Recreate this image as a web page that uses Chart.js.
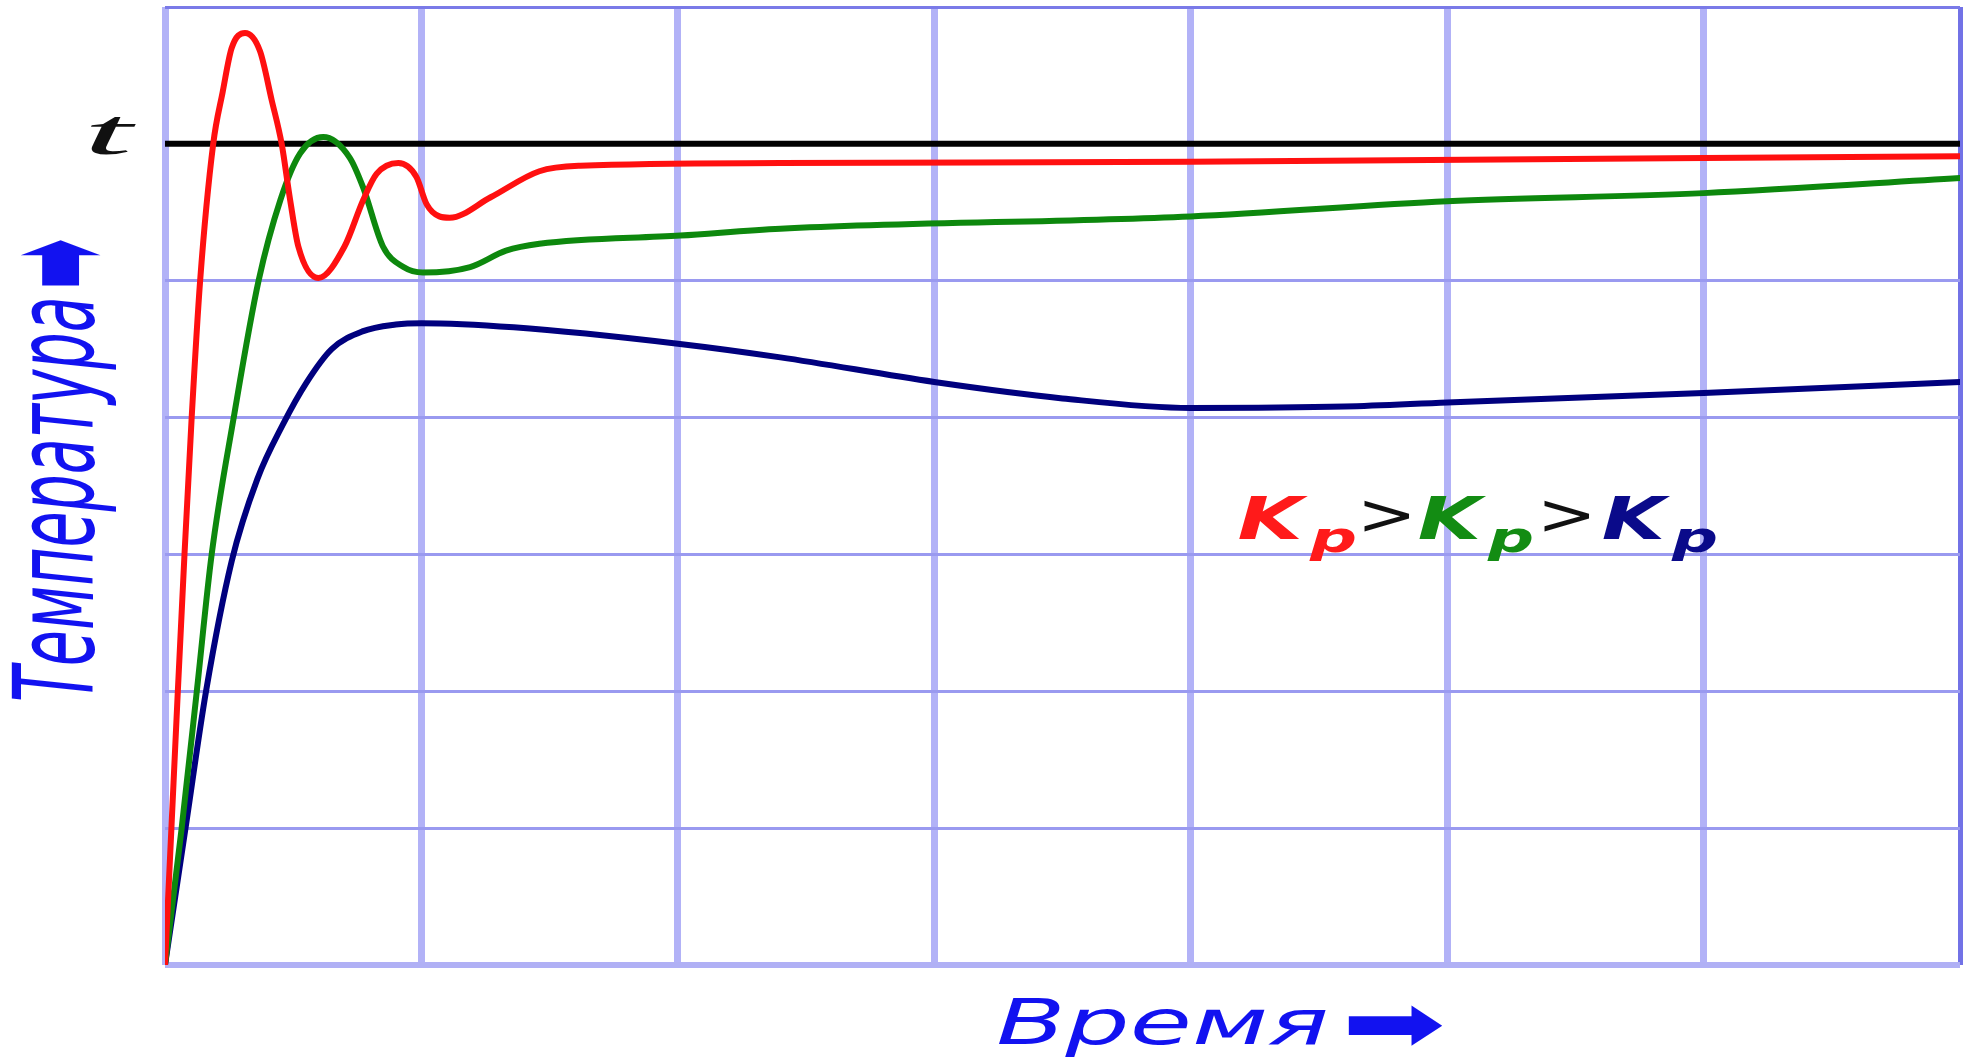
<!DOCTYPE html>
<html>
<head>
<meta charset="utf-8">
<script src="https://cdn.jsdelivr.net/npm/chart.js@4/dist/chart.umd.min.js"></script>
<style>
  body { margin: 0; background: #fff; }
  #wrap { width: 1974px; height: 1064px; position: relative; }
</style>
</head>
<body>
<div id="wrap"><canvas id="pidGraph"></canvas></div>
<script>
// setpoint level (the "t" line)
const tLevel = 6;
const tTime = [0, 7];

// high Kp - red
const redTime = [0, 0.025, 0.05, 0.076, 0.104, 0.137, 0.188, 0.225, 0.26, 0.312, 0.37, 0.416, 0.455, 0.488, 0.52, 0.598, 0.70, 0.773, 0.825, 0.91, 0.98, 1.02, 1.07, 1.11, 1.27, 1.46, 1.62, 2.4, 4, 7];
const redTemp = [0, 1, 2, 3, 4, 5, 6, 6.38, 6.7, 6.81, 6.68, 6.32, 6, 5.59, 5.25, 5.02, 5.25, 5.59, 5.78, 5.86, 5.76, 5.56, 5.47, 5.46, 5.61, 5.8, 5.84, 5.86, 5.87, 5.91];

// mid Kp - green
const greenTime = [0, 0.065, 0.124, 0.182, 0.268, 0.365, 0.45, 0.527, 0.617, 0.72, 0.773, 0.85, 0.93, 1.006, 1.19, 1.33, 1.46, 2.01, 2.4, 4, 5, 6, 7];
const greenTemp = [0, 1, 2, 3, 4, 5, 5.59, 5.93, 6.05, 5.9, 5.68, 5.25, 5.1, 5.06, 5.1, 5.22, 5.27, 5.33, 5.38, 5.47, 5.58, 5.64, 5.75];

// low Kp - blue
const blueTime = [0, 0.08, 0.16, 0.26, 0.36, 0.46, 0.55, 0.65, 0.77, 0.9, 1.0, 1.36, 2.0, 2.4, 3.0, 3.5, 4.0, 4.6, 5.0, 6.0, 7.0];
const blueTemp = [0, 1, 2, 2.95, 3.55, 3.95, 4.25, 4.5, 4.63, 4.68, 4.69, 4.66, 4.54, 4.44, 4.26, 4.14, 4.07, 4.08, 4.11, 4.18, 4.26];

const pts = (xs, ys) => xs.map((x, i) => ({ x: x, y: ys[i] }));

// stretch text into a box (the picture is stretched sideways)
function fitText(ctx, txt, font, color, w, h) {
  ctx.font = font;
  ctx.fillStyle = color;
  ctx.textAlign = 'left';
  ctx.textBaseline = 'alphabetic';
  const m = ctx.measureText(txt);
  const mw = m.actualBoundingBoxLeft + m.actualBoundingBoxRight;
  const mh = m.actualBoundingBoxAscent + m.actualBoundingBoxDescent;
  ctx.scale(w / mw, h / mh);
  ctx.fillText(txt, m.actualBoundingBoxLeft, m.actualBoundingBoxAscent);
}
function boxText(ctx, txt, font, color, x0, y0, x1, y1) {
  ctx.save();
  ctx.translate(x0, y0);
  fitText(ctx, txt, font, color, x1 - x0, y1 - y0);
  ctx.restore();
}

const labelsPlugin = {
  id: 'labels',
  afterDraw(chart) {
    const ctx = chart.ctx;
    const blue = '#1212f0';
    const sans = 'italic 60px "DejaVu Sans"';

    // t
    boxText(ctx, 't', 'italic 60px "Liberation Serif"', '#111', 89, 117, 136, 155);

    // y title, reading upward
    ctx.save();
    ctx.translate(10, 700);
    ctx.rotate(-Math.PI / 2);
    fitText(ctx, 'Температура', sans, blue, 400, 107);
    ctx.restore();
    ctx.save();
    ctx.translate(20, 286);
    ctx.rotate(-Math.PI / 2);
    fitText(ctx, '➡', '60px "DejaVu Sans"', blue, 46, 83);
    ctx.restore();

    // x title
    boxText(ctx, 'Время', sans, blue, 998, 998, 1327, 1057);
    boxText(ctx, '➡', '60px "DejaVu Sans"', blue, 1348, 1005, 1443, 1047);

    // Kp > Kp > Kp
    const kp = 'italic bold 60px "DejaVu Sans"';
    boxText(ctx, 'K', kp, '#ff1a1a', 1239, 495, 1309, 539);
    boxText(ctx, 'p', kp, '#ff1a1a', 1309, 527, 1355, 561);
    boxText(ctx, '>', '60px "DejaVu Sans"', '#111', 1364, 500, 1409, 532);
    boxText(ctx, 'K', kp, '#138c13', 1419, 495, 1487, 539);
    boxText(ctx, 'p', kp, '#138c13', 1487, 527, 1532, 561);
    boxText(ctx, '>', '60px "DejaVu Sans"', '#111', 1544, 500, 1589, 532);
    boxText(ctx, 'K', kp, '#0a0a8a', 1603, 495, 1671, 539);
    boxText(ctx, 'p', kp, '#0a0a8a', 1671, 527, 1716, 561);
  }
};

const ctxPid = document.getElementById('pidGraph');

new Chart(ctxPid, {
  type: 'scatter',
  data: {
    datasets: [
      { data: pts(redTime, redTemp), borderColor: '#ff1010', order: 0 },
      { data: pts(greenTime, greenTemp), borderColor: '#0d880d', order: 1 },
      { data: pts(blueTime, blueTemp), borderColor: '#00007e', order: 2 },
      { data: pts(tTime, [tLevel, tLevel]), borderColor: '#000', order: 3, cubicInterpolationMode: 'default', tension: 0 }
    ]
  },
  options: {
    responsive: true,
    maintainAspectRatio: false,
    animation: false,
    layout: { padding: { left: 165, top: 7, right: 14, bottom: 99 } },
    datasets: {
      scatter: {
        showLine: true,
        pointRadius: 0,
        borderWidth: 6,
        cubicInterpolationMode: 'monotone',
        borderCapStyle: 'round',
        borderJoinStyle: 'round'
      }
    },
    plugins: { legend: { display: false }, tooltip: { enabled: false } },
    scales: {
      x: {
        type: 'linear', min: 0, max: 7,
        ticks: { display: false, stepSize: 1 },
        border: { display: false },
        grid: {
          drawTicks: false,
          lineWidth: c => c.index === 7 ? 5 : 7,
          color: c => c.index === 7 ? '#7272e6' : '#b2b2f7'
        }
      },
      y: {
        min: 0, max: 7,
        ticks: { display: false, stepSize: 1 },
        border: { display: false },
        grid: {
          drawTicks: false,
          lineWidth: c => c.index === 0 ? 6 : 3,
          color: c => c.index === 0 ? '#b0b0f5' : (c.index === 7 ? '#7a7ae8' : '#9a9af0')
        }
      }
    }
  },
  plugins: [labelsPlugin]
});
</script>
</body>
</html>
